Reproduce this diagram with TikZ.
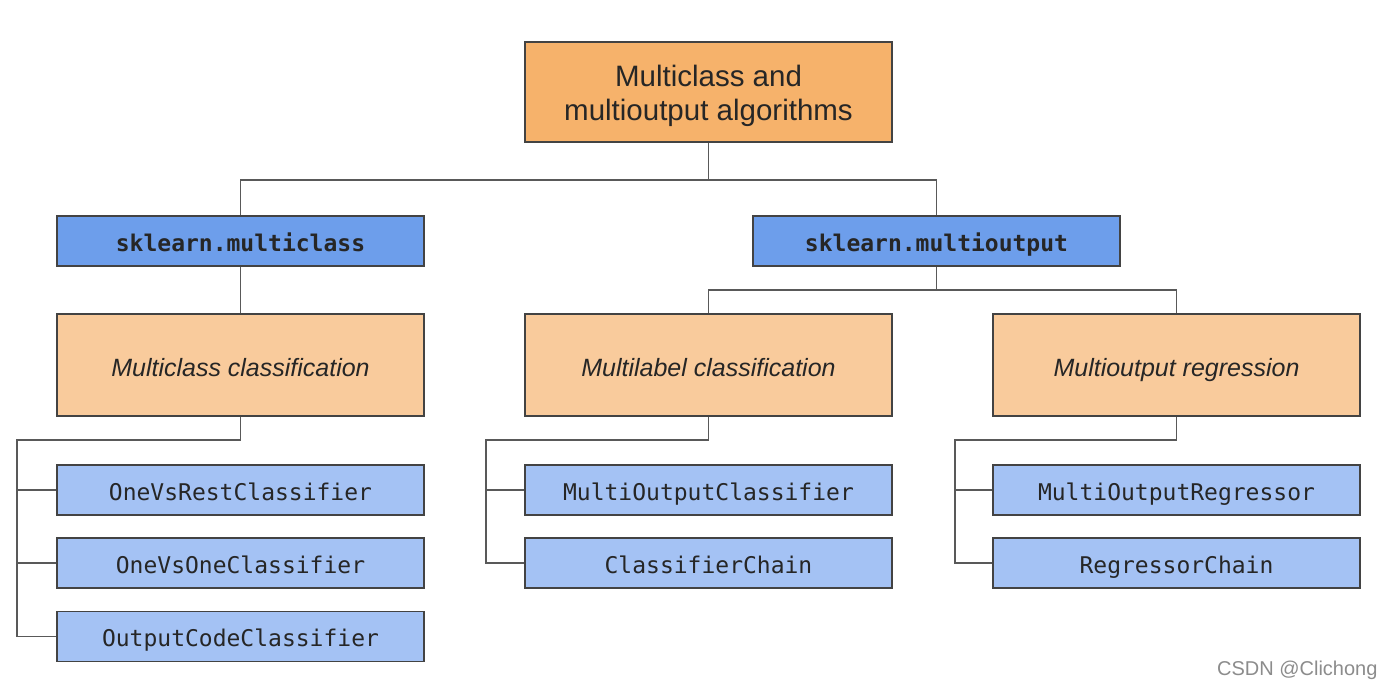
\documentclass[tikz,border=0pt]{standalone}
\usepackage{fontspec}
\setmainfont{Liberation Sans}
\newfontfamily\codefont{DejaVu Sans Mono}
\definecolor{topor}{HTML}{F6B26B}
\definecolor{lightor}{HTML}{F9CB9C}
\definecolor{midblue}{HTML}{6D9EEB}
\definecolor{lightblue}{HTML}{A4C2F4}
\definecolor{edge}{HTML}{434343}
\definecolor{wire}{HTML}{595959}
\begin{document}
\begin{tikzpicture}[x=1pt,y=-1pt,
  box/.style={draw=edge,line width=1.3pt,minimum width=367pt,inner sep=0pt,align=center,text=black!85},
  titlebox/.style={box,fill=topor,minimum height=100pt},
  titletext/.style={align=center,text=black!85,inner sep=0pt,font=\fontsize{29.5}{34}\selectfont},
  modbox/.style={box,fill=midblue,minimum height=50pt,text height=21pt,text depth=1pt,font=\codefont\bfseries\fontsize{23}{28}\selectfont},
  catbox/.style={box,fill=lightor,minimum height=102pt,text height=23pt,text depth=1pt,font=\itshape\fontsize{25}{30}\selectfont},
  leafbox/.style={box,fill=lightblue,minimum height=50pt,text height=21pt,text depth=1pt,font=\codefont\fontsize{23}{28}\selectfont},
  wireline/.style={draw=wire,line width=1.3pt}]
\useasboundingbox[fill=white] (0,0) rectangle (1400,699);

\node[titlebox] (top) at (708.5,92) {};
\node[titletext] (toptext) at ([yshift=-4pt]top.center) {Multiclass and\\multioutput algorithms};

\node[modbox] (mc) at (240.5,241) {sklearn.multiclass};
\node[modbox] (mo) at (936.5,241) {sklearn.multioutput};

\node[catbox] (cc) at (240.5,365) {Multiclass classification};
\node[catbox] (mlc) at (708.5,365) {Multilabel classification};
\node[catbox] (mor) at (1176.5,365) {Multioutput regression};

\node[leafbox] (l1) at (240.5,490) {OneVsRestClassifier};
\node[leafbox] (l2) at (240.5,563) {OneVsOneClassifier};
\node[leafbox] (l3) at (240.5,636.5) {OutputCodeClassifier};

\node[leafbox] (m1) at (708.5,490) {MultiOutputClassifier};
\node[leafbox] (m2) at (708.5,563) {ClassifierChain};

\node[leafbox] (r1) at (1176.5,490) {MultiOutputRegressor};
\node[leafbox] (r2) at (1176.5,563) {RegressorChain};

\node[font=\fontsize{20}{24}\selectfont,text=black!45,anchor=east] (wm) at (1381,670) {CSDN @Clichong};

% connectors
\coordinate (tbus) at (708.5,180);
\draw[wireline] (top.south) -- (tbus);
\draw[wireline] (tbus) -| (mc.north);
\draw[wireline] (tbus) -| (mo.north);
\draw[wireline] (mc.south) -- (cc.north);

\coordinate (mbus) at (936.5,290);
\draw[wireline] (mo.south) -- (mbus);
\draw[wireline] (mbus) -| (mlc.north);
\draw[wireline] (mbus) -| (mor.north);

\coordinate (cbus) at (17,440);
\draw[wireline] (cc.south) |- (cbus) |- (l3.west);
\draw[wireline] (cbus |- l1.west) -- (l1.west);
\draw[wireline] (cbus |- l2.west) -- (l2.west);

\coordinate (lbus) at (486,440);
\draw[wireline] (mlc.south) |- (lbus) |- (m2.west);
\draw[wireline] (lbus |- m1.west) -- (m1.west);

\coordinate (rbus) at (955,440);
\draw[wireline] (mor.south) |- (rbus) |- (r2.west);
\draw[wireline] (rbus |- r1.west) -- (r1.west);
\end{tikzpicture}
\end{document}
